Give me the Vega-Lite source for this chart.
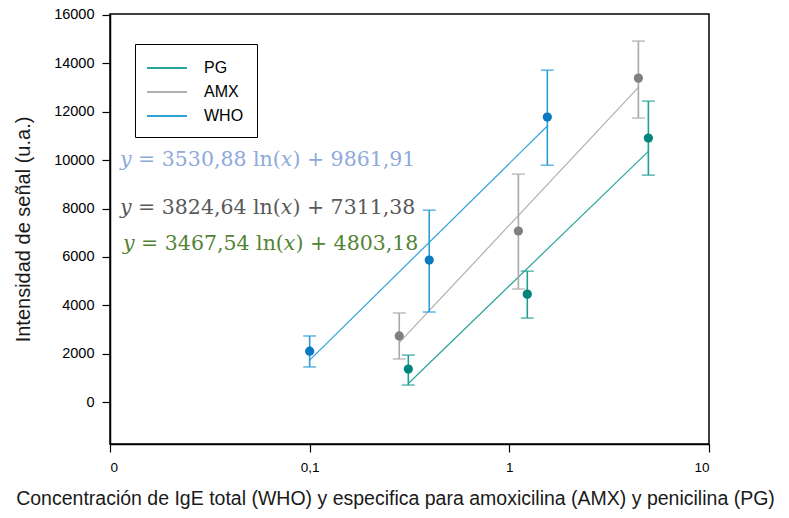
{
  "$schema": "https://vega.github.io/schema/vega-lite/v6.json",
  "width": 599,
  "height": 430,
  "autosize": {"type": "none"},
  "padding": {"left": 110, "top": 14, "right": 80, "bottom": 74},
  "background": "white",
  "config": {
    "view": {"stroke": "#000000", "strokeWidth": 1.5},
    "font": "Liberation Sans",
    "axis": {
      "grid": false,
      "domainColor": "#000000",
      "domainWidth": 1.5,
      "tickColor": "#000000",
      "tickWidth": 1.2,
      "labelColor": "#000000",
      "titleColor": "#1a1a1a",
      "titleFontWeight": "normal",
      "labelFont": "Liberation Sans",
      "titleFont": "Liberation Sans"
    },
    "legend": {"labelFont": "Liberation Sans", "labelColor": "#000000"}
  },
  "datasets": {
    "pts": [
      {"series": "WHO", "x": 0.1, "y": 2100, "lo": 1450, "hi": 2730},
      {"series": "WHO", "x": 0.397, "y": 5870, "lo": 3720, "hi": 7930},
      {"series": "WHO", "x": 1.55, "y": 11780, "lo": 9790, "hi": 13720},
      {"series": "AMX", "x": 0.281, "y": 2730, "lo": 1780, "hi": 3680},
      {"series": "AMX", "x": 1.11, "y": 7070, "lo": 4670, "hi": 9420},
      {"series": "AMX", "x": 4.43, "y": 13390, "lo": 11740, "hi": 14920},
      {"series": "PG", "x": 0.312, "y": 1360, "lo": 700, "hi": 1940},
      {"series": "PG", "x": 1.23, "y": 4460, "lo": 3470, "hi": 5410},
      {"series": "PG", "x": 4.97, "y": 10910, "lo": 9380, "hi": 12440}
    ],
    "fits": [
      {"series": "WHO", "x": 0.1, "y": 1732},
      {"series": "WHO", "x": 1.55, "y": 11409},
      {"series": "AMX", "x": 0.281, "y": 2456},
      {"series": "AMX", "x": 4.43, "y": 13004},
      {"series": "PG", "x": 0.312, "y": 764},
      {"series": "PG", "x": 4.97, "y": 10363}
    ],
    "eqs": [
      {"series": "WHO", "x": 0.01122, "y": 10005, "label": "𝑦 = 3530,88 ln(𝑥) + 9861,91"},
      {"series": "AMX", "x": 0.01122, "y": 8021, "label": "𝑦 = 3824,64 ln(𝑥) + 7311,38"},
      {"series": "PG", "x": 0.01162, "y": 6532, "label": "𝑦 = 3467,54 ln(𝑥) + 4803,18"}
    ]
  },
  "encoding": {
    "x": {
      "field": "x",
      "type": "quantitative",
      "scale": {"type": "log", "domain": [0.01, 10], "nice": false},
      "axis": {
        "values": [0.01, 0.1, 1, 10],
        "labelExpr": "datum.value < 0.05 ? '0' : (datum.value < 0.5 ? '0,1' : datum.label)",
        "tickSize": 8,
        "labelFontSize": 13.5,
        "labelPadding": 8,
        "title": "Concentración de IgE total (WHO) y especifica para amoxicilina (AMX) y penicilina (PG)",
        "titleFontSize": 19.5,
        "titlePadding": 16,
        "titleX": 285
      }
    },
    "y": {
      "field": "y",
      "type": "quantitative",
      "scale": {"domain": [-1736, 16041], "nice": false, "zero": false},
      "axis": {
        "values": [0, 2000, 4000, 6000, 8000, 10000, 12000, 14000, 16000],
        "format": "d",
        "tickSize": 8,
        "labelFontSize": 14.5,
        "labelPadding": 8,
        "title": "Intensidad de señal (u.a.)",
        "titleFontSize": 20,
        "titlePadding": 20
      }
    }
  },
  "layer": [
    {
      "data": {"name": "fits"},
      "mark": {"type": "line", "strokeWidth": 1.2},
      "encoding": {
        "color": {
          "field": "series",
          "type": "nominal",
          "scale": {"domain": ["PG", "AMX", "WHO"], "range": ["#2aa39a", "#b0b0b0", "#2ea2d8"]},
          "legend": {
            "title": null,
            "orient": "none",
            "legendX": 25,
            "legendY": 30,
            "symbolType": "M-2,0L2,0",
            "symbolSize": 400,
            "symbolStrokeWidth": 2,
            "symbolOffset": 8,
            "labelFontSize": 16,
            "strokeColor": "#000000",
            "padding": 13,
            "rowPadding": 5,
            "labelOffset": 26,
            "fillColor": "white"
          }
        },
        "detail": {"field": "series"}
      }
    },
    {
      "data": {"name": "pts"},
      "mark": {"type": "rule", "strokeWidth": 1.6},
      "encoding": {
        "y": {"field": "lo", "type": "quantitative"},
        "y2": {"field": "hi"},
        "color": {
          "field": "series",
          "type": "nominal",
          "scale": {"domain": ["PG", "AMX", "WHO"], "range": ["#22a095", "#a8a8a8", "#2a9dd6"]},
          "legend": null
        }
      }
    },
    {
      "data": {"name": "pts"},
      "transform": [{"fold": ["lo", "hi"], "as": ["end", "val"]}],
      "mark": {"type": "tick", "orient": "horizontal", "size": 13, "thickness": 1.6},
      "encoding": {
        "y": {"field": "val", "type": "quantitative"},
        "color": {
          "field": "series",
          "type": "nominal",
          "scale": {"domain": ["PG", "AMX", "WHO"], "range": ["#22a095", "#a8a8a8", "#2a9dd6"]},
          "legend": null
        }
      }
    },
    {
      "data": {"name": "pts"},
      "mark": {"type": "circle", "size": 85, "opacity": 1},
      "encoding": {
        "color": {
          "field": "series",
          "type": "nominal",
          "scale": {"domain": ["PG", "AMX", "WHO"], "range": ["#00857a", "#808080", "#0b79c2"]},
          "legend": null
        }
      }
    },
    {
      "data": {"name": "eqs"},
      "mark": {"type": "text", "align": "left", "baseline": "middle", "font": "DejaVu Serif", "fontSize": 20.5},
      "encoding": {
        "text": {"field": "label"},
        "color": {
          "field": "series",
          "type": "nominal",
          "scale": {"domain": ["WHO", "AMX", "PG"], "range": ["#8eaadb", "#595959", "#548235"]},
          "legend": null
        }
      }
    }
  ],
  "resolve": {"scale": {"color": "independent"}}
}
